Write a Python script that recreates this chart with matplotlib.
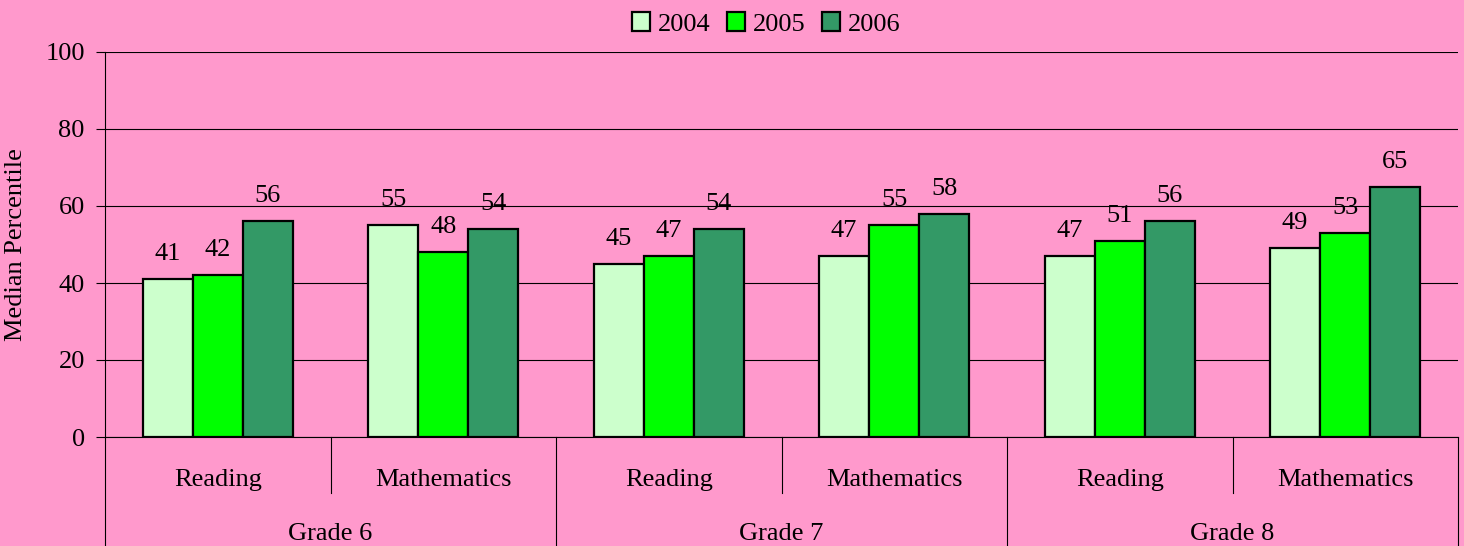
import matplotlib
matplotlib.use("Agg")
import matplotlib.pyplot as plt
import matplotlib.transforms as mtransforms
import numpy as np

# data
subjects = ["Reading", "Mathematics", "Reading", "Mathematics", "Reading", "Mathematics"]
grades = ["Grade 6", "Grade 7", "Grade 8"]
years = ["2004", "2005", "2006"]
scores_2004 = [41, 55, 45, 47, 47, 49]
scores_2005 = [42, 48, 47, 55, 51, 53]
scores_2006 = [56, 54, 54, 58, 56, 65]
y_ticks = [0, 20, 40, 60, 80, 100]

colors = ["#CCFFCC", "#00FF00", "#339966"]
bg = "#FF99CC"
fs = 19

plt.rcParams["font.family"] = ["Liberation Serif", "DejaVu Serif"]
plt.rcParams["font.size"] = fs

fig = plt.figure(figsize=(14.64, 5.46), dpi=100, facecolor=bg)
W, H = 1464, 546
ax = fig.add_axes([105 / W, (H - 437) / H, (1458 - 105) / W, (437 - 52) / H])
ax.set_facecolor(bg)

x = np.arange(len(subjects))
width = 1 / 4.5
series = [scores_2004, scores_2005, scores_2006]

for i, (vals, col, yr) in enumerate(zip(series, colors, years)):
    bars = ax.bar(x + (i - 1) * width, vals, width, color=col,
                  edgecolor="black", linewidth=1.6, label=yr, zorder=3)
    # value labels above each bar
    for b, v in zip(bars, vals):
        ax.annotate(str(v), (b.get_x() + b.get_width() / 2, v),
                    xytext=(0, 19), textcoords="offset pixels",
                    ha="center", va="baseline", fontsize=fs)

ax.set_xlim(-0.5, len(subjects) - 0.5)
ax.set_ylim(0, 100)
ax.set_yticks(y_ticks)
ax.yaxis.grid(True, color="black", linewidth=0.8)
ax.set_axisbelow(True)
ax.tick_params(axis="y", direction="out", length=6.5, width=0.8, pad=8,
               labelsize=fs)
ax.set_xticks([])
for s in ["top", "right"]:
    ax.spines[s].set_visible(False)
ax.spines["left"].set_linewidth(0.8)
ax.spines["bottom"].set_linewidth(0.8)

# two-level category axis
trans = mtransforms.blended_transform_factory(ax.transData, ax.transAxes)
for xi, name in zip(x, subjects):
    ax.text(xi, -0.1265, name, transform=trans, ha="center", va="baseline",
            fontsize=fs)
for gi, g in enumerate(grades):
    ax.text(2 * gi + 0.5, -0.2675, g, transform=trans, ha="center",
            va="baseline", fontsize=fs)

for b in [0.5, 2.5, 4.5]:
    ax.plot([b, b], [0, -0.1455], transform=trans, color="black",
            linewidth=0.8, clip_on=False)
for b in [-0.5, 1.5, 3.5, 5.5]:
    ax.plot([b, b], [0, -0.3], transform=trans, color="black",
            linewidth=0.8, clip_on=False)

fig.text(16.5 / W, 0.5 * ((H - 437) + (H - 52)) / H, "Median Percentile",
         rotation=90, ha="center", va="center", fontsize=fs)

fig.legend(loc="center", bbox_to_anchor=(766 / W, 1 - 24 / H), ncol=3,
           frameon=False, handlelength=0.7, handleheight=0.7,
           handletextpad=0.28, columnspacing=0.62, fontsize=fs,
           borderpad=0)

fig.savefig("out.png", dpi=100, facecolor=bg)
